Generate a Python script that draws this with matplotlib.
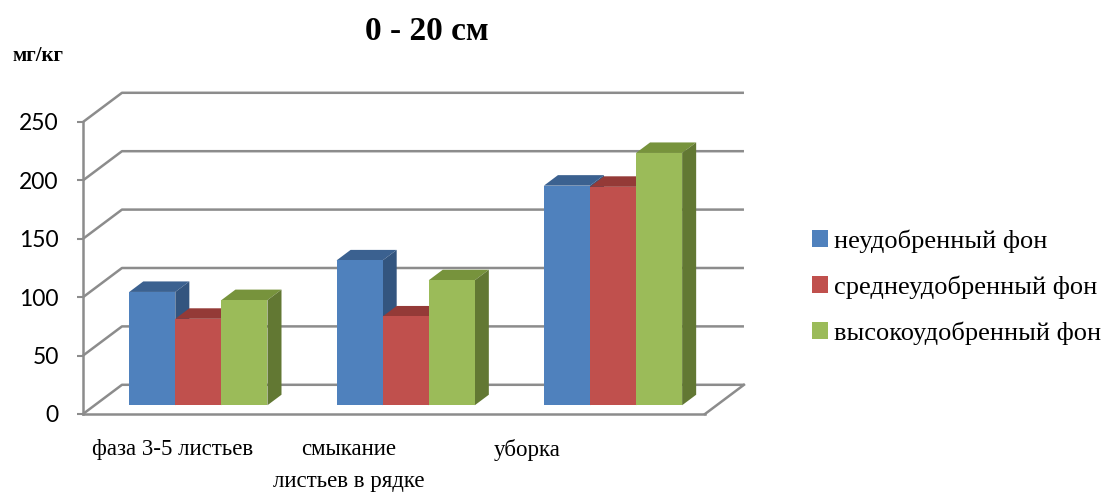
import matplotlib.pyplot as plt
from matplotlib.patches import Polygon, Patch

# Nitrate content, 0-20 cm layer
categories = ['фаза 3-5 листьев', 'смыкание\nлистьев в рядке', 'уборка']
series_names = ['неудобренный фон', 'среднеудобренный фон', 'высокоудобренный фон']
# one row per category: unfertilized, medium, high background
phase_3_5 = [97, 74, 90]
canopy_closure = [124, 76, 107]
harvest = [188, 187, 216]
values = [phase_3_5, canopy_closure, harvest]
y_ticks = [0, 50, 100, 150, 200, 250]

per_series = [list(col) for col in zip(*values)]

front_colors = ['#4F81BD', '#C0504D', '#9BBB59']
top_colors = ['#3B6190', '#943A37', '#77933C']
side_colors = ['#33557F', '#7E302E', '#627833']
grid_color = '#8C8C8C'

# oblique projection of the depth axis (category units, value units)
depth_x, depth_y = 0.188, 25.0
bar_front, bar_back = 0.30, 0.66
bar_w = 1 / 4.5
bar_margin = 0.75 * bar_w

fig = plt.figure(figsize=(11.09, 4.93), dpi=100)
ax = fig.add_axes([0, 0, 1, 1])
ax.set_xlim(-0.4003, 4.9486)
ax.set_ylim(-67.64, 354.45)
n_cat = len(categories)

# back wall gridlines and left wall diagonals
for v in y_ticks:
    ax.plot([0, depth_x, n_cat + depth_x], [v, v + depth_y, v + depth_y],
            color=grid_color, lw=1.8, zorder=1, solid_capstyle='butt')
# right edge of the floor
ax.plot([n_cat, n_cat + depth_x], [0, depth_y], color=grid_color, lw=1.8, zorder=1)

# 3D columns: top and side faces, then the front drawn by ax.bar
fx, fy = bar_front * depth_x, bar_front * depth_y
dx, dy = (bar_back - bar_front) * depth_x, (bar_back - bar_front) * depth_y
for j, vals in enumerate(per_series):
    lefts = [i + bar_margin + j * bar_w + fx for i in range(n_cat)]
    for x0, v in zip(lefts, vals):
        top = fy + v
        ax.add_patch(Polygon([(x0, top), (x0 + bar_w, top), (x0 + bar_w + dx, top + dy),
                              (x0 + dx, top + dy)], closed=True,
                             facecolor=top_colors[j], edgecolor='none', zorder=2 + 2 * j))
        ax.add_patch(Polygon([(x0 + bar_w, fy), (x0 + bar_w + dx, fy + dy),
                              (x0 + bar_w + dx, top + dy), (x0 + bar_w, top)], closed=True,
                             facecolor=side_colors[j], edgecolor='none', zorder=2 + 2 * j))
    ax.bar(lefts, vals, width=bar_w, bottom=fy, align='edge',
           color=front_colors[j], zorder=3 + 2 * j)

# axes: left edge of the wall and front edge of the floor
for side in ['top', 'right']:
    ax.spines[side].set_visible(False)
ax.spines['left'].set_position(('data', 0))
ax.spines['left'].set_bounds(0, 250)
ax.spines['bottom'].set_position(('data', 0))
ax.spines['bottom'].set_bounds(0, n_cat)
for side in ['left', 'bottom']:
    ax.spines[side].set_color(grid_color)
    ax.spines[side].set_linewidth(1.8)

ax.set_yticks(y_ticks)
ax.tick_params(axis='y', direction='out', length=4, width=1.5, color=grid_color,
               pad=13.5, labelsize=16.5)
for lbl in ax.get_yticklabels():
    lbl.set_fontfamily('Lato')

ax.set_xticks([0.434, 1.283, 2.142])
ax.set_xticklabels(categories, fontfamily='Liberation Serif', fontsize=16.5)
ax.tick_params(axis='x', length=0, pad=18)
for lbl in ax.get_xticklabels():
    lbl.set_linespacing(1.7)

fig.text(427 / 1109, 1 - 31 / 493, '0 - 20 см', ha='center', va='center',
         fontfamily='Liberation Serif', fontweight='bold', fontsize=24)
fig.text(12 / 1109, 1 - 56 / 493, 'мг/кг', ha='left', va='center',
         fontfamily='Liberation Serif', fontweight='bold', fontsize=15)

handles = [Patch(facecolor=c, edgecolor='none') for c in front_colors]
ax.legend(handles, series_names, loc='center left', bbox_to_anchor=(788 / 1109, 1 - 287 / 493),
          frameon=False, prop={'family': 'Liberation Serif', 'size': 19},
          handlelength=0.6, handleheight=0.6, handletextpad=0.25, labelspacing=0.85)

fig.savefig('out.png', dpi=100)
